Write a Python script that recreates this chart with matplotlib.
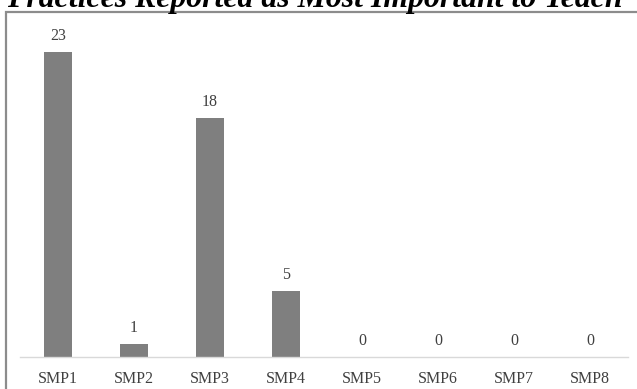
import matplotlib.pyplot as plt
from matplotlib.patches import Rectangle

categories = ["SMP1", "SMP2", "SMP3", "SMP4", "SMP5", "SMP6", "SMP7", "SMP8"]
counts = [23, 1, 18, 5, 0, 0, 0, 0]
title = "Practices Reported as Most Important to Teach"

plt.rcParams['font.family'] = ['Liberation Serif', 'DejaVu Serif']

fig = plt.figure(figsize=(6.37, 3.89), dpi=100)

# chart frame (runs off the right and bottom edges)
fig.patches.append(Rectangle((6 / 637, -0.05), 1.0, (389 - 12) / 389 + 0.05,
                             transform=fig.transFigure, fill=False,
                             edgecolor='#8c8c8c', linewidth=1.6))

fig.text(314.5 / 637, (389 - 7) / 389, title, ha='center', va='baseline',
         fontsize=22.9, fontweight='bold', fontstyle='italic', color='black')

ax = fig.add_axes([20 / 637, (389 - 357) / 389, 608 / 637, 331.5 / 389])
x = range(len(categories))
bars = ax.bar(x, counts, width=0.38, color='#7f7f7f')
ax.set_xlim(-0.5, len(categories) - 0.5)
ax.set_ylim(0, 25)

for xi, v in zip(x, counts):
    ax.annotate(str(v), (xi, v), xytext=(0, 11.5), textcoords='offset points',
                ha='center', va='center', fontsize=11.5, color='#404040')

for side in ['top', 'right', 'left']:
    ax.spines[side].set_visible(False)
ax.spines['bottom'].set_color('#d9d9d9')
ax.spines['bottom'].set_linewidth(1.0)
ax.set_yticks([])
ax.set_xticks(list(x))
ax.set_xticklabels(categories, fontsize=11.5, color='#404040')
ax.tick_params(axis='x', length=0, pad=10)
ax.patch.set_alpha(0)

fig.savefig('out.png', dpi=100)
